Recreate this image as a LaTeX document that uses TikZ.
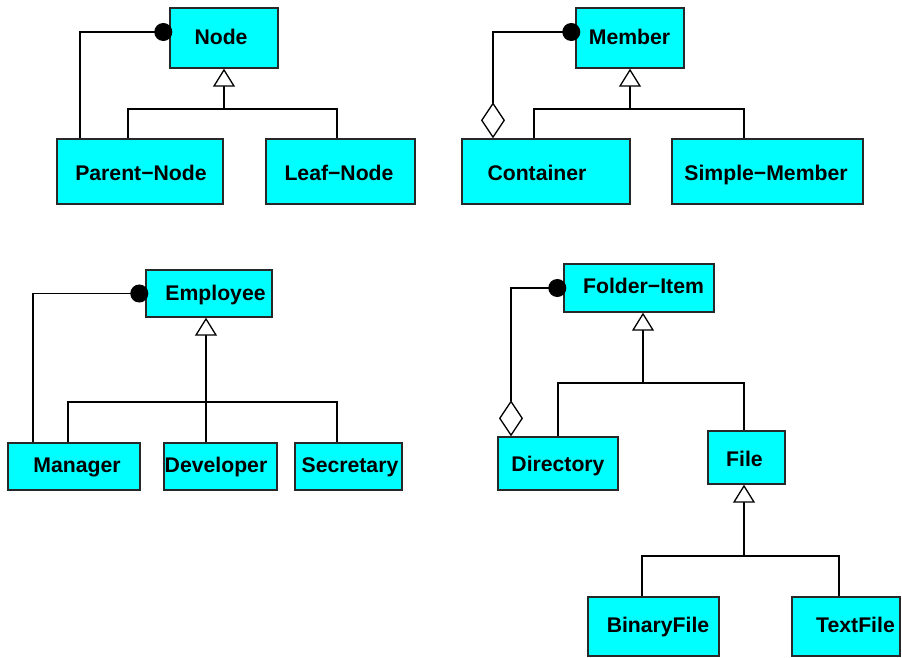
\documentclass[tikz,border=0pt]{standalone}
\usepackage{fontspec}
\setmainfont{Liberation Sans}
\usetikzlibrary{arrows.meta}
\definecolor{classfill}{RGB}{0,255,255}
\definecolor{classedge}{RGB}{40,40,40}
\tikzset{
  cls/.style={draw=classedge, line width=1.4pt, fill=classfill, inner sep=0pt},
  lbl/.style={anchor=base, inner sep=0pt, font=\bfseries\fontsize{21.2}{25}\selectfont},
  link/.style={draw=black, line width=1.3pt},
  inh/.style={link, -{Triangle[open, length=18pt, width=22pt, fill=white]}},
  comp/.style={link, -{Circle[length=18pt]}},
  agg/.style={link, {Diamond[open, length=36pt, width=24pt, fill=white]}-{Circle[length=18pt]}},
}
\begin{document}
\begin{tikzpicture}[x=1pt, y=-1pt]
\useasboundingbox (0,0) rectangle (902,658);

% ---------- Node / Parent-Node / Leaf-Node ----------
\node[cls, minimum width=108pt, minimum height=60pt] (node) at (224,38) {};
\node[cls, minimum width=166pt, minimum height=65pt] (pnode) at (140,171.5) {};
\node[cls, minimum width=149pt, minimum height=65pt] (lnode) at (340.5,171.5) {};
\node[lbl] (node-t) at (221,44.3) {Node};
\node[lbl] (pnode-t) at (141,180) {Parent−Node};
\node[lbl] (lnode-t) at (339,180) {Leaf−Node};
\coordinate (j1) at (224,109);
\draw[link] ([xshift=-12]pnode.north) |- (j1) -| ([xshift=-3.5]lnode.north);
\draw[inh] (j1) -- (node.south);
\draw[comp] ([xshift=-60]pnode.north) |- ([xshift=3,yshift=6]node.west);

% ---------- Member / Container / Simple-Member ----------
\node[cls, minimum width=108pt, minimum height=60pt] (member) at (630,38) {};
\node[cls, minimum width=168pt, minimum height=65pt] (cont) at (546,171.5) {};
\node[cls, minimum width=191pt, minimum height=65pt] (smem) at (767.5,171.5) {};
\node[lbl] (member-t) at (629.5,44.3) {Member};
\node[lbl] (cont-t) at (537,180) {Container};
\node[lbl] (smem-t) at (766,180) {Simple−Member};
\coordinate (j2) at (630,109);
\draw[link] ([xshift=-12]cont.north) |- (j2) -| ([xshift=-23.5]smem.north);
\draw[inh] (j2) -- (member.south);
\draw[agg] ([xshift=-53]cont.north) |- ([xshift=5,yshift=6]member.west);

% ---------- Employee / Manager / Developer / Secretary ----------
\node[cls, minimum width=126pt, minimum height=47pt] (emp) at (209,293.5) {};
\node[cls, minimum width=132pt, minimum height=47pt] (mgr) at (74,466.5) {};
\node[cls, minimum width=113pt, minimum height=47pt] (dev) at (220.5,466.5) {};
\node[cls, minimum width=107pt, minimum height=47pt] (sec) at (348.5,466.5) {};
\node[lbl] (emp-t) at (215.5,300) {Employee};
\node[lbl] (mgr-t) at (77,472) {Manager};
\node[lbl] (dev-t) at (216,472) {Developer};
\node[lbl] (sec-t) at (350,472) {Secretary};
\coordinate (j3) at (206,402);
\draw[link] ([xshift=-6]mgr.north) |- (j3) -| ([xshift=-11.5]sec.north);
\draw[inh] ([xshift=-14.5]dev.north) -- ([xshift=-3]emp.south);
\draw[comp] ([xshift=-41]mgr.north) |- ([xshift=3]emp.west);

% ---------- Folder-Item / Directory / File ----------
\node[cls, minimum width=150pt, minimum height=48pt] (fitem) at (639,288) {};
\node[cls, minimum width=120pt, minimum height=53pt] (dir) at (558,463.5) {};
\node[cls, minimum width=77pt, minimum height=53pt] (file) at (746.5,457.5) {};
\node[lbl] (fitem-t) at (643.5,293) {Folder−Item};
\node[lbl] (dir-t) at (558,471.7) {Directory};
\node[lbl] (file-t) at (744.5,466) {File};
\coordinate (j4) at (643,383);
\draw[link] (dir.north) |- (j4) -| ([xshift=-2.5]file.north);
\draw[inh] (j4) -- ([xshift=4]fitem.south);
\draw[agg] ([xshift=-47]dir.north) |- ([xshift=3]fitem.west);

% ---------- BinaryFile / TextFile ----------
\node[cls, minimum width=131pt, minimum height=59pt] (bfile) at (653.5,626.5) {};
\node[cls, minimum width=108pt, minimum height=59pt] (tfile) at (846,626.5) {};
\node[lbl] (bfile-t) at (658,632.7) {BinaryFile};
\node[lbl] (tfile-t) at (855.5,632.7) {TextFile};
\coordinate (j5) at (744,556);
\draw[link] ([xshift=-11.5]bfile.north) |- (j5) -| ([xshift=-7]tfile.north);
\draw[inh] (j5) -- ([xshift=-2.5]file.south);
\end{tikzpicture}
\end{document}
